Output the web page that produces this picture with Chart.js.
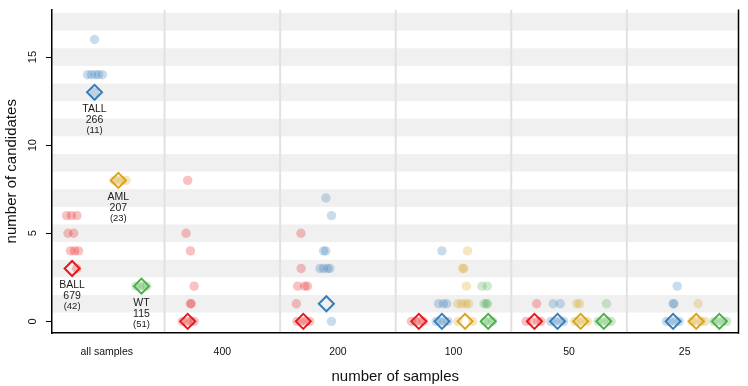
<!DOCTYPE html>
<html>
<head>
<meta charset="utf-8">
<script src="https://cdn.jsdelivr.net/npm/chart.js@4.4.0/dist/chart.umd.min.js"></script>
<style>
html,body{margin:0;padding:0;background:#fff;}
#wrap{width:748px;height:386px;}
</style>
</head>
<body>
<div id="wrap"><canvas id="c" width="748" height="386"></canvas></div>
<script>
// ---- data ----
const panelLabels = ['all samples', '400', '200', '100', '50', '25'];
const panelCenters = [2.5, 7.5, 12.5, 17.5, 22.5, 27.5];
const panelSeparators = [5, 10, 15, 20, 25];
const yTicks = [0, 5, 10, 15];

const groups = ['BALL', 'TALL', 'AML', 'WT'];
const groupSizes = [679, 266, 207, 115];
const groupParens = [42, 11, 23, 51];
const groupColors = ['#E41A1C', '#377EB8', '#D8A31A', '#4DAF4A'];
const groupFills = ['rgba(228,26,28,0.27)', 'rgba(55,126,184,0.27)', 'rgba(216,163,26,0.27)', 'rgba(77,175,74,0.27)'];

const ballX = [0.76, 0.97, 1.21, 0.82, 1.07, 0.93, 1.11, 1.28, 1.2,
               6.0, 5.93, 6.12, 6.28, 6.12, 6.15, 5.77, 5.98, 6.15, 6.28,
               10.9, 10.91, 10.76, 11.06, 11.18, 10.7, 10.73, 10.9, 11.11, 11.28,
               15.68, 15.85, 16.03, 16.2,
               21.1, 20.64, 20.85, 21.15, 21.28];
const ballY = [6, 6, 6, 5, 5, 4, 4, 4, 3,
               8, 5, 4, 2, 1, 1, 0, 0, 0, 0,
               5, 3, 2, 2, 2, 1, 0, 0, 0, 0,
               0, 0, 0, 0,
               1, 0, 0, 0, 0];
const ballMedX = [1.0, 6.0, 11.0, 16.0, 21.0];
const ballMedY = [3, 0, 0, 0, 0];

const tallX = [1.97, 1.67, 1.84, 2.01, 2.14, 2.31, 1.97,
               11.98, 12.22, 11.88, 11.97, 11.72, 11.87, 12.05, 12.15, 12.22,
               17.0, 16.85, 17.06, 17.21, 16.75, 16.92, 17.09, 17.26,
               21.81, 22.12, 21.71, 21.88, 22.09, 22.26,
               27.18, 27.04, 27.0, 26.71, 26.88, 27.09, 27.26];
const tallY = [16, 14, 14, 14, 14, 14, 13,
               7, 6, 4, 4, 3, 3, 3, 3, 0,
               4, 1, 1, 1, 0, 0, 0, 0,
               1, 1, 0, 0, 0, 0,
               2, 1, 1, 0, 0, 0, 0];
const tallMedX = [1.97, 12.0, 17.0, 22.0, 27.0];
const tallMedY = [13, 1, 0, 0, 0];

const amlX = [2.82, 2.99, 3.16, 3.33,
              18.11, 17.89, 17.95, 18.06, 17.68, 17.85, 18.03, 18.16, 17.69, 18.33,
              22.83, 22.95, 22.74, 22.91, 23.08, 23.29,
              28.08, 27.82, 27.99, 28.21, 28.38];
const amlY = [8, 8, 8, 8,
              4, 3, 3, 2, 1, 1, 1, 1, 0, 0,
              1, 1, 0, 0, 0, 0,
              1, 0, 0, 0, 0];
const amlMedX = [3.0, 18.0, 23.0, 28.0];
const amlMedY = [8, 0, 0, 0];

const wtX = [3.76, 3.93, 4.1, 4.23,
             18.73, 18.96, 18.82, 18.92, 18.97, 18.85, 19.02, 19.19,
             24.12, 23.76, 23.93, 24.15, 24.32,
             28.76, 28.93, 29.15, 29.32];
const wtY = [2, 2, 2, 2,
             2, 2, 1, 1, 1, 0, 0, 0,
             1, 0, 0, 0, 0,
             0, 0, 0, 0];
const wtMedX = [4.0, 19.0, 24.0, 29.0];
const wtMedY = [2, 0, 0, 0];

// ---- build ----
const FONT = '"Liberation Sans", Arial, Helvetica, sans-serif';
const zip = (xs, ys) => xs.map((x, i) => ({x: x, y: ys[i]}));
const pointSets = [[ballX, ballY], [tallX, tallY], [amlX, amlY], [wtX, wtY]];
const medSets = [[ballMedX, ballMedY], [tallMedX, tallMedY], [amlMedX, amlMedY], [wtMedX, wtMedY]];

const datasets = [];
groups.forEach((g, i) => {
  datasets.push({
    label: g + ' points',
    data: zip(pointSets[i][0], pointSets[i][1]),
    pointRadius: 4.7, pointHoverRadius: 4.7,
    backgroundColor: groupFills[i], borderWidth: 0, borderColor: 'rgba(0,0,0,0)',
    order: 2
  });
});
groups.forEach((g, i) => {
  datasets.push({
    label: g,
    data: zip(medSets[i][0], medSets[i][1]),
    pointStyle: 'rectRot',
    pointRadius: 7.5, pointHoverRadius: 7.5,
    backgroundColor: 'rgba(255,255,255,0)', borderColor: groupColors[i], borderWidth: 2,
    order: 1
  });
});

const decorPlugin = {
  id: 'decor',
  beforeDraw(chart) {
    const {ctx, chartArea: a, scales: {x, y}} = chart;
    ctx.save();
    ctx.fillStyle = '#fff';
    ctx.fillRect(0, 0, chart.width, chart.height);
    ctx.beginPath();
    ctx.rect(a.left, a.top, a.right - a.left, a.bottom - a.top);
    ctx.clip();
    ctx.fillStyle = '#F0F0F0';
    for (let k = 1; k <= 19; k += 2) {
      const t = y.getPixelForValue(k + 0.5), b = y.getPixelForValue(k - 0.5);
      ctx.fillRect(a.left, t, a.right - a.left, b - t);
    }
    ctx.strokeStyle = '#E1E1E1';
    ctx.lineWidth = 2;
    panelSeparators.forEach(v => {
      const px = x.getPixelForValue(v);
      ctx.beginPath(); ctx.moveTo(px, a.top); ctx.lineTo(px, a.bottom); ctx.stroke();
    });
    ctx.restore();
  },
  afterDraw(chart) {
    const {ctx, chartArea: a, scales: {x, y}} = chart;
    ctx.save();
    // right frame line
    ctx.strokeStyle = '#000'; ctx.lineWidth = 1.5;
    ctx.beginPath(); ctx.moveTo(a.right, a.top); ctx.lineTo(a.right, a.bottom + 0.75); ctx.stroke();
    // rotated y tick labels
    ctx.fillStyle = '#111';
    ctx.font = '11px ' + FONT;
    ctx.textAlign = 'center'; ctx.textBaseline = 'middle';
    yTicks.forEach(v => {
      const py = y.getPixelForValue(v);
      ctx.save(); ctx.translate(33, py); ctx.rotate(-Math.PI / 2);
      ctx.fillText(String(v), 0, 0); ctx.restore();
    });
    // group labels under the all-samples diamonds
    groups.forEach((g, i) => {
      const px = x.getPixelForValue(medSets[i][0][0]);
      const py = y.getPixelForValue(medSets[i][1][0]);
      ctx.fillStyle = '#1a1a1a';
      ctx.font = '10.5px ' + FONT;
      ctx.fillText(g, px, py + 16.5);
      ctx.fillText(String(groupSizes[i]), px, py + 27.5);
      ctx.font = '9.5px ' + FONT;
      ctx.fillText('(' + groupParens[i] + ')', px, py + 38);
    });
    ctx.restore();
  }
};

new Chart(document.getElementById('c'), {
  type: 'scatter',
  data: {datasets: datasets},
  options: {
    responsive: false,
    animation: false,
    events: [],
    layout: {padding: {top: 0, right: 1, left: 0, bottom: 0}},
    plugins: {legend: {display: false}, tooltip: {enabled: false}},
    scales: {
      x: {
        type: 'linear', min: 0.13, max: 29.83, bounds: 'data',
        afterFit: s => { s.height = 53; },
        afterBuildTicks: s => { s.ticks = panelCenters.map(v => ({value: v})); },
        grid: {display: false, drawTicks: false},
        border: {display: true, color: '#000', width: 1.5},
        ticks: {
          autoSkip: false, maxRotation: 0, minRotation: 0, padding: 13,
          color: '#111', font: {family: FONT, size: 10.5},
          callback: (v, i) => panelLabels[i]
        },
        title: {display: true, text: 'number of samples', color: '#111',
                font: {family: FONT, size: 15}, padding: {top: 0, bottom: 0}}
      },
      y: {
        type: 'linear', min: -0.66, max: 17.7, bounds: 'data',
        afterFit: s => { s.width = 52; },
        afterBuildTicks: s => { s.ticks = yTicks.map(v => ({value: v})); },
        grid: {display: true, drawOnChartArea: false, drawTicks: true, tickLength: 6,
               color: '#000', tickColor: '#000', tickWidth: 1, lineWidth: 1},
        border: {display: true, color: '#000', width: 1.5},
        ticks: {display: false},
        title: {display: true, text: 'number of candidates', color: '#111',
                font: {family: FONT, size: 15}, padding: {top: 3, bottom: 0}}
      }
    }
  },
  plugins: [decorPlugin]
});
</script>
</body>
</html>
